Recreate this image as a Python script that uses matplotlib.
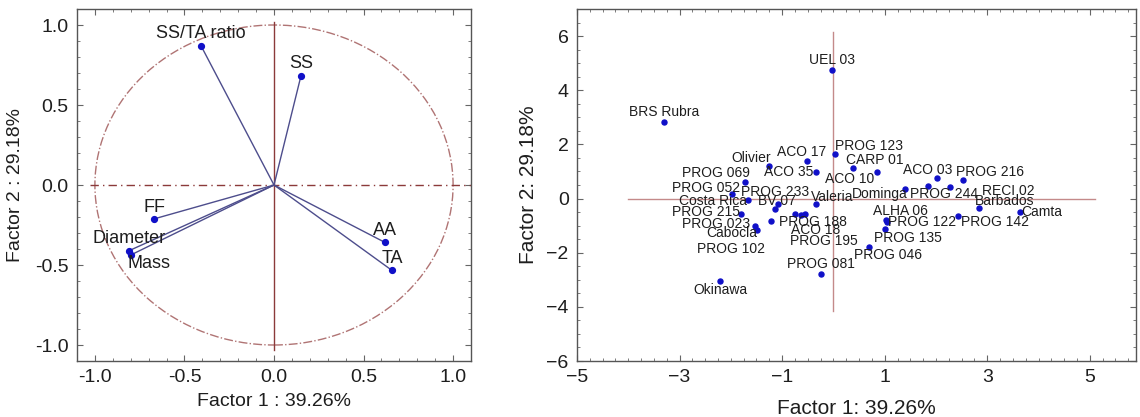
import matplotlib
matplotlib.use("Agg")
import matplotlib.pyplot as plt
from matplotlib.patches import Circle
from matplotlib.ticker import MultipleLocator, FormatStrFormatter

plt.rcParams["font.family"] = ["Liberation Sans", "DejaVu Sans"]

# variable loadings on the first two factors
var_names = ["SS/TA ratio", "SS", "FF", "Diameter", "Mass", "AA", "TA"]
var_f1 = [-0.407, 0.151, -0.670, -0.812, -0.799, 0.618, 0.659]
var_f2 = [0.869, 0.684, -0.212, -0.412, -0.437, -0.358, -0.534]

# genotype scores
geno_names = [
    "UEL 03", "BRS Rubra", "PROG 123", "ACO 17", "Olivier", "CARP 01",
    "ACO 35", "ACO 10", "PROG 069", "ACO 03", "PROG 216", "PROG 052",
    "PROG 233", "BV 07", "Costa Rica", "Valeria", "Dominga", "PROG 244",
    "RECI 02", "Barbados", "Camta", "PROG 215", "ALHA 06", "PROG 122",
    "PROG 142", "PROG 023", "PROG 188", "Cabocla", "ACO 18", "PROG 195",
    "PROG 102", "PROG 135", "PROG 046", "PROG 081", "Okinawa",
]
geno_f1 = [
    -0.03, -3.30, 0.03, -0.51, -1.25, 0.38,
    -0.33, 0.85, -1.73, 2.02, 2.52, -1.98,
    -1.09, -1.14, -1.67, -0.33, 1.39, 1.85,
    2.27, 2.84, 3.63, -1.81, 1.03, 1.05,
    2.43, -1.52, -1.22, -1.49, -0.63, -0.55,
    -0.74, 1.01, 0.69, -0.24, -2.21,
]
geno_f2 = [
    4.73, 2.84, 1.63, 1.38, 1.22, 1.13,
    0.99, 0.99, 0.61, 0.75, 0.68, 0.15,
    -0.22, -0.40, -0.05, -0.19, 0.37, 0.46,
    0.43, -0.35, -0.48, -0.56, -0.78, -0.86,
    -0.63, -1.00, -0.84, -1.15, -0.62, -0.57,
    -0.56, -1.14, -1.79, -2.77, -3.04,
]

var_label_off = {
    "SS/TA ratio": (0, 12), "SS": (0, 12), "FF": (0, 11),
    "Diameter": (0, 12), "Mass": (18, -9), "AA": (0, 12), "TA": (0, 12),
}
geno_label_off = {
    "UEL 03": (0, 10), "BRS Rubra": (0, 10), "PROG 123": (34, 8),
    "ACO 17": (-6, 9), "Olivier": (-18, 8), "CARP 01": (22, 8),
    "ACO 35": (-28, 0), "ACO 10": (-27, -7), "PROG 069": (-29, 9),
    "ACO 03": (-9, 8), "PROG 216": (27, 8), "PROG 052": (-26, 6),
    "PROG 233": (-2, 12), "BV 07": (2, 8), "Costa Rica": (-35, -1),
    "Valeria": (16, 7), "Dominga": (-25, -5), "PROG 244": (16, -8),
    "RECI 02": (58, -4), "Barbados": (26, 7), "Camta": (22, 0),
    "PROG 215": (-35, 2), "ALHA 06": (14, 9), "PROG 122": (35, 0),
    "PROG 142": (37, -6), "PROG 023": (-39, 2), "PROG 188": (42, -1),
    "Cabocla": (-25, -3), "ACO 18": (15, -15), "PROG 195": (19, -27),
    "PROG 102": (-64, -35), "PROG 135": (23, -9), "PROG 046": (19, -8),
    "PROG 081": (0, 10), "Okinawa": (0, -9),
}

TEXT = "#1e1e1e"
DOT = "#1010c8"


def style_axes(ax, fs):
    for s in ax.spines.values():
        s.set_color("#555555")
        s.set_linewidth(1.0)
    ax.tick_params(which="both", direction="in", top=True, right=True,
                   colors="#666666", labelcolor=TEXT, labelsize=fs, pad=6)
    ax.tick_params(which="major", length=4, width=0.8)
    ax.tick_params(which="minor", length=2.5, width=0.6)


fig = plt.figure(figsize=(11.4, 4.17), dpi=100)

# loadings plot
ax1 = fig.add_axes([77 / 1140, 56 / 417, 394 / 1140, 352 / 417])
ax1.add_patch(Circle((0, 0), 1, fill=False, ls="-.", lw=1.0, color="#b07474"))
ax1.plot([-1.03, 1.1], [0, 0], ls=(0, (6, 3, 1, 3)), lw=1.0, color="#8b3a3a")
ax1.plot([0, 0], [-1.03, 1.02], lw=1.0, color="#8b3a3a")
for name, x, y in zip(var_names, var_f1, var_f2):
    ax1.plot([0, x], [0, y], color="#4d4d8c", lw=1.0)
    ax1.plot(x, y, "o", color=DOT, ms=4.2)
    dx, dy = var_label_off[name]
    ax1.annotate(name, (x, y), xytext=(dx, dy), textcoords="offset pixels",
                 ha="center", va="center", fontsize=13, color=TEXT)
ax1.set_xlim(-1.1, 1.1)
ax1.set_ylim(-1.1, 1.1)
ax1.xaxis.set_major_locator(MultipleLocator(0.5))
ax1.yaxis.set_major_locator(MultipleLocator(0.5))
ax1.xaxis.set_minor_locator(MultipleLocator(0.1))
ax1.yaxis.set_minor_locator(MultipleLocator(0.1))
ax1.xaxis.set_major_formatter(FormatStrFormatter("%.1f"))
ax1.yaxis.set_major_formatter(FormatStrFormatter("%.1f"))
style_axes(ax1, 14)
ax1.set_xlabel("Factor 1 : 39.26%", fontsize=14, color=TEXT, labelpad=5)
ax1.set_ylabel("Factor 2 : 29.18%", fontsize=14, color=TEXT, labelpad=8)

# genotype scores plot
ax2 = fig.add_axes([577 / 1140, 56 / 417, 559 / 1140, 352 / 417])
ax2.plot([-4.0, 5.1], [0, 0], lw=1.0, color="#c48a8a")
ax2.plot([0, 0], [-4.15, 6.15], lw=1.0, color="#c48a8a")
ax2.plot(geno_f1, geno_f2, "o", color=DOT, ms=3.6, ls="none")
for name, x, y in zip(geno_names, geno_f1, geno_f2):
    dx, dy = geno_label_off[name]
    ax2.annotate(name, (x, y), xytext=(dx, dy), textcoords="offset pixels",
                 ha="center", va="center", fontsize=10, color=TEXT)
ax2.set_xlim(-5, 5.9)
ax2.set_ylim(-6, 7)
ax2.set_xticks([-5, -3, -1, 1, 3, 5])
ax2.set_yticks([-6, -4, -2, 0, 2, 4, 6])
ax2.xaxis.set_minor_locator(MultipleLocator(0.25))
ax2.yaxis.set_minor_locator(MultipleLocator(0.5))
style_axes(ax2, 14)
ax2.set_xlabel("Factor 1: 39.26%", fontsize=15, color=TEXT, labelpad=9)
ax2.set_ylabel("Factor 2: 29.18%", fontsize=15, color=TEXT, labelpad=6)

fig.savefig("out.png", dpi=100)
